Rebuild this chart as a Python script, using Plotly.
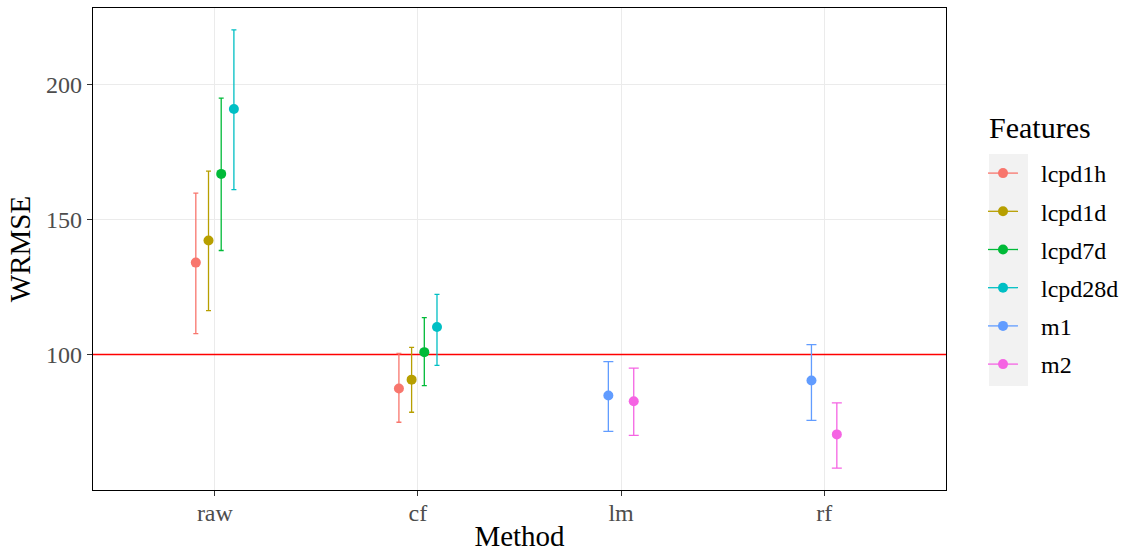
import plotly.graph_objects as go

# ---- data ----
methods = ["raw", "cf", "lm", "rf"]
features = ["lcpd1h", "lcpd1d", "lcpd7d", "lcpd28d", "m1", "m2"]
colors = ["#F8766D", "#B79F00", "#00BA38", "#00BFC4", "#619CFF", "#F564E3"]

row_method = ["raw", "raw", "raw", "raw", "cf", "cf", "cf", "cf", "lm", "lm", "rf", "rf"]
row_feature = ["lcpd1h", "lcpd1d", "lcpd7d", "lcpd28d",
               "lcpd1h", "lcpd1d", "lcpd7d", "lcpd28d",
               "m1", "m2", "m1", "m2"]
wrmse = [134.1, 142.3, 167.0, 191.1, 87.4, 90.7, 100.9, 110.2, 84.8, 82.7, 90.4, 70.4]
lower = [107.8, 116.3, 138.6, 161.2, 74.9, 78.6, 88.5, 96.0, 71.5, 70.0, 75.6, 57.9]
upper = [159.9, 168.0, 195.1, 220.4, 100.4, 102.7, 113.7, 122.3, 97.4, 95.0, 103.7, 82.1]
reference_line = 100

DODGE = 0.25
FONT = "Liberation Serif"
NBSP = "\u00a0"
W, H = 1131, 552

# dodge positions, like ggplot position_dodge
xpos = []
for i, m in enumerate(row_method):
    grp = [f for mm, f in zip(row_method, row_feature) if mm == m]
    n = len(grp)
    k = grp.index(row_feature[i])
    xpos.append(methods.index(m) + (k - (n - 1) / 2) * DODGE / n)

fig = go.Figure()

fig.add_trace(go.Scatter(
    x=[-0.6, len(methods) - 0.4], y=[reference_line, reference_line],
    mode="lines", line=dict(color="#FF0000", width=1.5),
    showlegend=False, hoverinfo="skip"))

for f, c in zip(features, colors):
    idx = [i for i, ff in enumerate(row_feature) if ff == f]
    xs, ys, ep, em = [], [], [], []
    for j, i in enumerate(idx):
        if j > 0:
            xs.append(None); ys.append(None); ep.append(None); em.append(None)
        xs.append(xpos[i]); ys.append(wrmse[i])
        ep.append(upper[i] - wrmse[i]); em.append(wrmse[i] - lower[i])
    n_in_group = max(row_method.count(row_method[i]) for i in idx)
    fig.add_trace(go.Scatter(
        x=xs, y=ys, name=NBSP * 3 + f, legendgroup=f,
        mode="lines+markers",
        line=dict(color=c, width=1.3),
        marker=dict(color=c, size=10),
        error_y=dict(type="data", symmetric=False, array=ep, arrayminus=em,
                     color=c, thickness=1.3, width=10 / n_in_group),
        connectgaps=False,
    ))

lo = min(lower); hi = max(upper); pad = (hi - lo) * 0.05

axis_common = dict(
    showgrid=True, gridcolor="#EBEBEB", gridwidth=1,
    zeroline=False, showline=True, mirror=True, automargin=False,
    linecolor="#000000", linewidth=1.3,
    ticks="outside", ticklen=5, tickcolor="#333333", tickwidth=1.2,
    tickfont=dict(family=FONT, size=24, color="#4D4D4D"),
)

fig.update_layout(
    width=W, height=H,
    margin=dict(l=93, r=185, t=8, b=62),
    paper_bgcolor="white", plot_bgcolor="white",
    font=dict(family=FONT, color="black"),
    xaxis=dict(**axis_common, range=[-0.6, len(methods) - 0.4],
               tickmode="array", tickvals=list(range(len(methods))), ticktext=methods,
               ticklabelstandoff=-4,
               title=dict(text="Method", font=dict(family=FONT, size=29), standoff=18)),
    yaxis=dict(**axis_common, range=[lo - pad, hi + pad],
               tickmode="array", tickvals=[100, 150, 200],
               title=dict(text="WRMSE", font=dict(family=FONT, size=29), standoff=6)),
    legend=dict(
        xref="container", yref="container",
        x=983 / W, y=1 - 151 / H, xanchor="left", yanchor="top",
        font=dict(family=FONT, size=24, color="black"),
        traceorder="grouped", tracegroupgap=4,
        bgcolor="rgba(0,0,0,0)",
    ),
    annotations=[dict(text="Features", xref="paper", yref="paper",
                      x=(987 - 93) / 853, y=(490 - 127) / 482,
                      xanchor="left", yanchor="middle", showarrow=False,
                      font=dict(family=FONT, size=30, color="black"))],
    shapes=[dict(type="rect", xref="paper", yref="paper",
                 x0=(989 - 93) / 853, x1=(1028 - 93) / 853,
                 y0=(490 - 386) / 482, y1=(490 - 154) / 482,
                 fillcolor="#F2F2F2", line=dict(width=0), layer="below")],
)

fig.write_html("out.html", config={"displayModeBar": False},
               post_script="document.body.style.margin='0px';")
